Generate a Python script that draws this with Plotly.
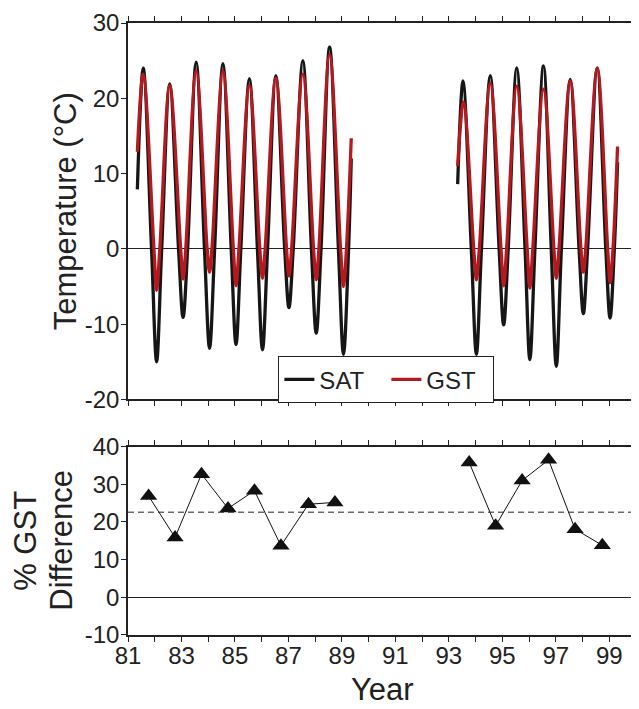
import plotly.graph_objects as go

# ---------------- data ----------------
# Top panel: keypoints (start, peaks, zero crossings, troughs, end) of each curve
sat_t1 = [81.35, 81.57, 81.88, 82.07, 82.26, 82.56, 82.89, 83.06, 83.23, 83.55, 83.86, 84.05, 84.24,
          84.55, 84.86, 85.04, 85.22, 85.54, 85.84, 86.03, 86.22, 86.53, 86.86, 87.02, 87.18,
          87.54, 87.86, 88.04, 88.22, 88.54, 88.87, 89.06, 89.25, 89.35]
sat_v1 = [7.9, 24.0, 0, -15.0, 0, 21.9, 0, -9.1, 0, 24.8, 0, -13.2, 0,
          24.6, 0, -12.7, 0, 22.6, 0, -13.4, 0, 23.0, 0, -7.8, 0,
          25.0, 0, -11.2, 0, 26.8, 0, -14.0, 0, 12.0]
gst_t1 = [81.35, 81.57, 81.97, 82.07, 82.19, 82.56, 82.97, 83.06, 83.16, 83.55, 83.96, 84.05, 84.14,
          84.55, 84.94, 85.04, 85.15, 85.54, 85.93, 86.03, 86.13, 86.53, 86.93, 87.02, 87.12,
          87.54, 87.94, 88.04, 88.14, 88.54, 88.95, 89.06, 89.17, 89.35]
gst_v1 = [12.9, 23.2, 0, -5.5, 0, 21.7, 0, -4.0, 0, 23.6, 0, -3.1, 0,
          23.6, 0, -4.9, 0, 21.7, 0, -3.9, 0, 22.7, 0, -3.6, 0,
          23.2, 0, -4.1, 0, 25.8, 0, -5.0, 0, 14.7]

sat_t2 = [93.33, 93.53, 93.84, 94.03, 94.22, 94.55, 94.88, 95.05, 95.22, 95.54, 95.85, 96.03, 96.22,
          96.54, 96.83, 97.02, 97.21, 97.54, 97.87, 98.03, 98.19, 98.55, 98.87, 99.03, 99.19, 99.31]
sat_v2 = [8.6, 22.3, 0, -14.0, 0, 23.0, 0, -10.1, 0, 24.05, 0, -14.7, 0,
          24.3, 0, -15.6, 0, 22.5, 0, -8.6, 0, 24.05, 0, -9.2, 0, 11.5]
gst_t2 = [93.33, 93.55, 93.93, 94.03, 94.14, 94.55, 94.95, 95.05, 95.16, 95.54, 95.93, 96.03, 96.14,
          96.54, 96.93, 97.02, 97.12, 97.54, 97.94, 98.03, 98.12, 98.55, 98.94, 99.03, 99.14, 99.31]
gst_v2 = [11.0, 19.5, 0, -4.1, 0, 22.0, 0, -4.9, 0, 21.6, 0, -5.2, 0,
          21.2, 0, -3.9, 0, 22.3, 0, -3.1, 0, 24.0, 0, -4.5, 0, 13.6]

# Bottom panel: % GST difference
diff_years1 = [81.77, 82.76, 83.75, 84.74, 85.73, 86.72, 87.75, 88.74]
diff_vals1 = [26.9, 15.9, 32.7, 23.6, 28.3, 13.7, 24.7, 25.2]
diff_years2 = [93.76, 94.75, 95.74, 96.73, 97.72, 98.74]
diff_vals2 = [35.8, 19.0, 31.0, 36.5, 18.1, 13.8]
mean_diff = 22.6

year_ticks = list(range(81, 101))
year_labels = [str(y) if y % 2 == 1 else "" for y in year_ticks]
temp_ticks = [-20, -10, 0, 10, 20, 30]
temp_labels = ["-20", "-10", "0", "10", "20", "30"]
diff_ticks = [-10, 0, 10, 20, 30, 40]
diff_labels = ["-10", "0", "10", "20", "30", "40"]

# ---------------- figure ----------------
FONT = "Liberation Sans, Arial, Helvetica, sans-serif"
INK = "#222222"
SAT_COLOR = "#161616"
GST_COLOR = "#b3191e"

def join(a, b):
    return list(a) + [None] + list(b)

fig = go.Figure()
fig.add_trace(go.Scatter(x=join(sat_t1, sat_t2), y=join(sat_v1, sat_v2), mode="lines",
                         name="SAT", line=dict(color=SAT_COLOR, width=3.3, shape="spline", smoothing=1.0),
                         xaxis="x", yaxis="y"))
fig.add_trace(go.Scatter(x=join(gst_t1, gst_t2), y=join(gst_v1, gst_v2), mode="lines",
                         name="GST", line=dict(color=GST_COLOR, width=3.3, shape="spline", smoothing=1.0),
                         xaxis="x", yaxis="y"))
fig.add_trace(go.Scatter(x=join(diff_years1, diff_years2), y=join(diff_vals1, diff_vals2),
                         mode="lines+markers", showlegend=False,
                         line=dict(color="#111111", width=1),
                         marker=dict(symbol="triangle-up", size=15, color="#111111"),
                         xaxis="x2", yaxis="y2"))

axis_common = dict(showline=True, linecolor=INK, linewidth=1.5, ticks="outside",
                   ticklen=5, tickwidth=1.2, tickcolor=INK, showgrid=False,
                   tickfont=dict(family=FONT, size=24, color=INK))

fig.update_layout(
    width=631, height=701,
    margin=dict(l=120, r=1, t=12, b=74),
    paper_bgcolor="white", plot_bgcolor="white",
    font=dict(family=FONT, color=INK),
    xaxis=dict(domain=[0, 1], anchor="y", range=[81, 100], tickvals=year_ticks,
               ticktext=["" for _ in year_ticks], mirror="ticks", zeroline=False, **axis_common),
    yaxis=dict(domain=[0.3849, 1], anchor="x", range=[-20, 30], tickvals=temp_ticks,
               ticktext=temp_labels, ticklabelstandoff=-3,
               mirror=True, zeroline=True, zerolinecolor=INK, zerolinewidth=1, **axis_common),
    xaxis2=dict(domain=[0, 1], anchor="y2", range=[81, 100], tickvals=year_ticks,
                ticktext=year_labels, ticklabelstandoff=-7,
                mirror="ticks", zeroline=False, **axis_common),
    yaxis2=dict(domain=[0, 0.3078], anchor="x2", range=[-10, 40], tickvals=diff_ticks,
                ticktext=diff_labels, ticklabelstandoff=-3,
                mirror=True, zeroline=True, zerolinecolor=INK, zerolinewidth=1, **axis_common),
    legend=dict(orientation="h", x=0.296, y=0.4553, xanchor="left", yanchor="top",
                bordercolor=INK, borderwidth=1, bgcolor="white", entrywidth=62,
                font=dict(family=FONT, size=24, color=INK)),
    showlegend=True,
)

fig.add_shape(type="line", xref="x2 domain", yref="y2", x0=0, x1=1, y0=mean_diff, y1=mean_diff,
              line=dict(color=INK, width=1, dash="6px,4px"))

title_font = dict(family=FONT, size=31, color=INK)
fig.add_annotation(text="Temperature (°C)", xref="paper", yref="paper", x=-0.1235, y=0.6927,
                   textangle=-90, showarrow=False, font=title_font, xanchor="center", yanchor="middle")
fig.add_annotation(text="% GST", xref="paper", yref="paper", x=-0.202, y=0.1545,
                   textangle=-90, showarrow=False, font=title_font, xanchor="center", yanchor="middle")
fig.add_annotation(text="Difference", xref="paper", yref="paper", x=-0.1314, y=0.1545,
                   textangle=-90, showarrow=False, font=title_font, xanchor="center", yanchor="middle")
fig.add_annotation(text="Year", xref="paper", yref="paper", x=0.5, y=-0.0894,
                   showarrow=False, font=title_font, xanchor="center", yanchor="middle")

fig.write_html("out.html")
